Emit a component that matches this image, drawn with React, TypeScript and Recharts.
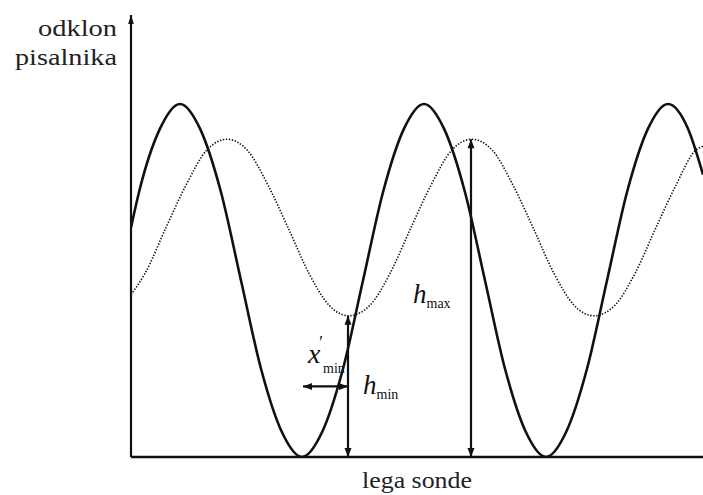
import { LineChart, Line, XAxis, YAxis, ReferenceLine, ReferenceDot } from "recharts";

// probe position (x) and pen deflection (y)
const solidX = [0, 8, 29, 49, 69, 90, 110, 130, 151, 171, 191, 212, 232, 252, 273, 293, 313, 334, 354, 374, 395, 415, 435, 456, 476, 496, 517, 537, 557, 572];
const solidY = [65, 75, 93, 100, 93, 75, 50, 25, 7, 0, 7, 25, 50, 75, 93, 100, 93, 75, 50, 25, 7, 0, 7, 25, 50, 75, 93, 100, 93, 80];

const dottedX = [0, 14, 35, 55, 76, 96, 116, 137, 157, 178, 198, 218, 239, 259, 280, 300, 321, 341, 361, 382, 402, 423, 443, 463, 484, 504, 525, 545, 565, 572];
const dottedY = [46, 52, 65, 77, 87, 90, 87, 77, 65, 52, 43, 40, 43, 52, 65, 77, 87, 90, 87, 77, 65, 52, 43, 40, 43, 52, 65, 77, 87, 88];

// annotation anchors
const hMax = { x: 340, top: 90, label: 43.6 };
const hMin = { x: 217, top: 40, label: 17.8 };
const xMin = { from: 172, y: 20, label: 26.6 };
const yTop = 125.2;

const solidData = solidX.map((x, i) => ({ x, y: solidY[i] }));
const dottedData = dottedX.map((x, i) => ({ x, y: dottedY[i] }));

const FONT = "Liberation Serif, Times New Roman, Tinos, Times, serif";

const head = (dir: "up" | "down" | "left" | "right", len = 9, half = 3.5) => (props: any) => {
  const { cx, cy } = props;
  let pts = "";
  if (dir === "up") pts = `${cx},${cy} ${cx - half},${cy + len} ${cx + half},${cy + len}`;
  if (dir === "down") pts = `${cx},${cy} ${cx - half},${cy - len} ${cx + half},${cy - len}`;
  if (dir === "left") pts = `${cx},${cy} ${cx + len},${cy - half} ${cx + len},${cy + half}`;
  if (dir === "right") pts = `${cx},${cy} ${cx - len},${cy - half} ${cx - len},${cy + half}`;
  return <polygon points={pts} fill="#111" />;
};

const hLabel = (sub: string, dx: number) => (props: any) => {
  const { cx, cy } = props;
  return (
    <text x={cx + dx} y={cy} style={{ fontFamily: FONT }} fill="#111">
      <tspan fontStyle="italic" fontSize={27}>h</tspan>
      <tspan fontSize={14} dy={5}>{sub}</tspan>
    </text>
  );
};

const xPrimeLabel = (props: any) => {
  const { cx, cy } = props;
  return (
    <text style={{ fontFamily: FONT }} fill="#111">
      <tspan x={cx - 40} y={cy} fontStyle="italic" fontSize={28}>x</tspan>
      <tspan x={cx - 30} y={cy - 14} fontStyle="italic" fontSize={18}>′</tspan>
      <tspan x={cx - 25} y={cy + 10} fontSize={14}>min</tspan>
    </text>
  );
};

const YLabel = (props: any) => {
  const { viewBox } = props;
  const x = viewBox.x + viewBox.width - 14;
  return (
    <text style={{ fontFamily: FONT }} fontSize={24} fill="#222" textAnchor="end">
      <tspan x={x} y={viewBox.y + 21} textLength={79} lengthAdjust="spacingAndGlyphs">odklon</tspan>
      <tspan x={x} y={viewBox.y + 50} textLength={102} lengthAdjust="spacingAndGlyphs">pisalnika</tspan>
    </text>
  );
};

const XLabel = (props: any) => {
  const { viewBox } = props;
  return (
    <text x={viewBox.x + viewBox.width / 2} y={viewBox.y + 31} style={{ fontFamily: FONT }} fontSize={24} fill="#222" textAnchor="middle" textLength={110} lengthAdjust="spacingAndGlyphs">
      lega sonde
    </text>
  );
};

export default function App() {
  return (
    <div style={{ position: "absolute", left: 0, top: 0, background: "#fff" }}>
      <LineChart width={703} height={495} margin={{ top: 15, right: 0, bottom: 0, left: 0 }}>
        <XAxis
          type="number"
          dataKey="x"
          domain={[0, 572]}
          allowDataOverflow
          height={38}
          tick={false}
          tickLine={false}
          axisLine={{ stroke: "#111", strokeWidth: 2.5 }}
          label={{ content: XLabel }}
        />
        <YAxis
          type="number"
          dataKey="y"
          domain={[0, yTop]}
          allowDataOverflow
          width={131}
          tick={false}
          tickLine={false}
          axisLine={{ stroke: "#111", strokeWidth: 2.2 }}
          label={{ content: YLabel }}
        />
        <Line
          data={dottedData}
          dataKey="y"
          type="monotone"
          stroke="#111"
          strokeWidth={1.6}
          strokeDasharray="1.4 1.6"
          dot={false}
          isAnimationActive={false}
        />
        <Line
          data={solidData}
          dataKey="y"
          type="monotone"
          stroke="#111"
          strokeWidth={2.6}
          dot={false}
          isAnimationActive={false}
        />
        <ReferenceDot x={0} y={yTop} r={0} ifOverflow="visible" shape={head("up", 9, 2.8)} />

        <ReferenceLine segment={[{ x: hMax.x, y: 0 }, { x: hMax.x, y: hMax.top }]} stroke="#111" strokeWidth={2.2} />
        <ReferenceDot x={hMax.x} y={hMax.top} r={0} shape={head("up")} />
        <ReferenceDot x={hMax.x} y={0} r={0} shape={head("down")} />

        <ReferenceLine segment={[{ x: hMin.x, y: 0 }, { x: hMin.x, y: hMin.top }]} stroke="#111" strokeWidth={2.2} />
        <ReferenceDot x={hMin.x} y={hMin.top} r={0} shape={head("up")} />
        <ReferenceDot x={hMin.x} y={0} r={0} shape={head("down")} />

        <ReferenceLine segment={[{ x: xMin.from, y: xMin.y }, { x: hMin.x, y: xMin.y }]} stroke="#111" strokeWidth={2.2} />
        <ReferenceDot x={xMin.from} y={xMin.y} r={0} shape={head("left")} />
        <ReferenceDot x={hMin.x} y={xMin.y} r={0} shape={head("right")} />

        <ReferenceDot x={hMax.x} y={hMax.label} r={0} shape={hLabel("max", -58)} />
        <ReferenceDot x={hMin.x} y={hMin.label} r={0} shape={hLabel("min", 15)} />
        <ReferenceDot x={hMin.x} y={xMin.label} r={0} shape={xPrimeLabel} />
      </LineChart>
    </div>
  );
}
